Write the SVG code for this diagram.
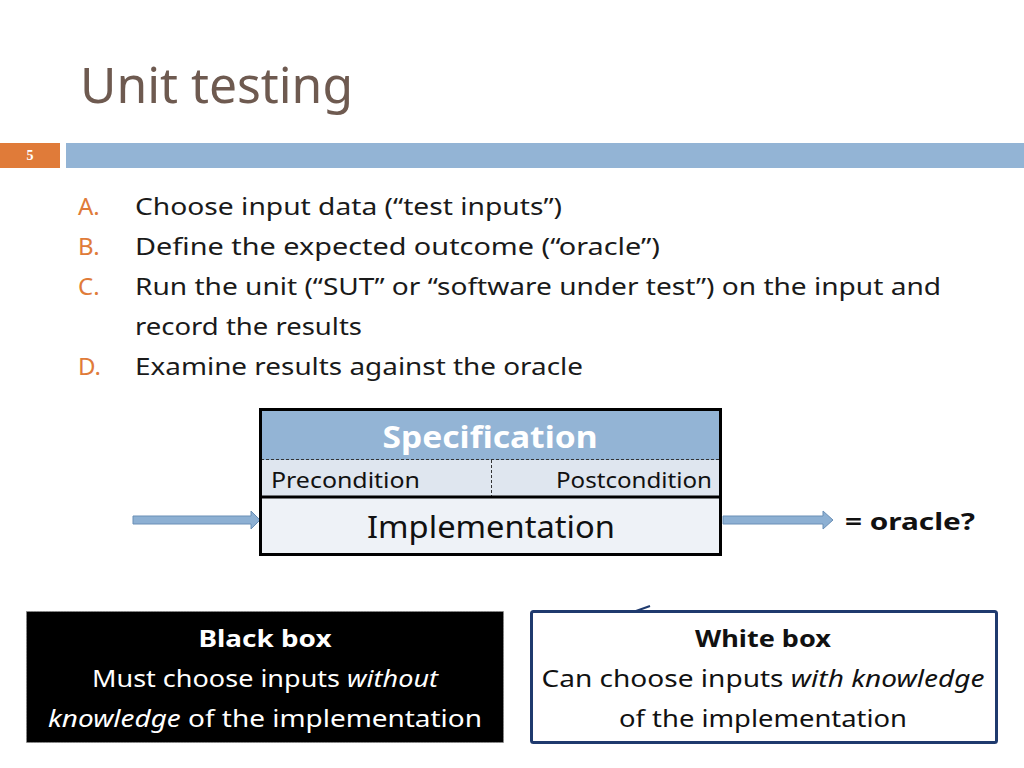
<svg xmlns="http://www.w3.org/2000/svg" width="1024" height="768" viewBox="0 0 1024 768">
<defs>
<style>
text{font-family:"Noto Sans","Open Sans","DejaVu Sans",sans-serif;}
.title{font-size:50px;fill:#6e5a50;}
.lbl{font-size:24px;fill:#e07b39;}
.item{font-size:24px;fill:#1a1a1a;}
.cell{font-size:22px;fill:#111;}
.big{font-size:30px;fill:#111;}
.box{font-size:24px;}
.arrow{fill:#8db0d3;stroke:#6a8fb6;stroke-width:1;}
</style>
</defs>
<rect width="1024" height="768" fill="#ffffff"/>
<g id="header">
<text class="title" x="80" y="103" textLength="273" lengthAdjust="spacingAndGlyphs">Unit testing</text>
<rect x="0" y="143" width="60" height="25" fill="#e07b39"/>
<text x="30" y="160" text-anchor="middle" style="font-family:'Liberation Serif',serif;font-size:14px;font-weight:bold;fill:#fff">5</text>
<rect x="66" y="143" width="958" height="25" fill="#93b4d5"/>
</g>
<g id="list">
<text class="lbl" x="78" y="215">A.</text>
<text class="item" x="135" y="215" textLength="427" lengthAdjust="spacingAndGlyphs">Choose input data (“test inputs”)</text>
<text class="lbl" x="78" y="255">B.</text>
<text class="item" x="135" y="255" textLength="525" lengthAdjust="spacingAndGlyphs">Define the expected outcome (“oracle”)</text>
<text class="lbl" x="78" y="295">C.</text>
<text class="item" x="135" y="295" textLength="806" lengthAdjust="spacingAndGlyphs">Run the unit (“SUT” or “software under test”) on the input and</text>
<text class="item" x="135" y="335" textLength="227" lengthAdjust="spacingAndGlyphs">record the results</text>
<text class="lbl" x="78" y="375">D.</text>
<text class="item" x="135" y="375" textLength="448" lengthAdjust="spacingAndGlyphs">Examine results against the oracle</text>
</g>
<g id="connectors">
<path class="arrow" d="M133,516 H251 V511 L260,520 L251,529 V524 H133 Z"/>
<path class="arrow" d="M723,516 H823 V511 L833,520 L823,529 V524 H723 Z"/>
</g>
<g id="spec-table">
<rect x="261" y="410" width="459" height="50" fill="#93b4d5"/>
<rect x="261" y="460" width="459" height="36" fill="#dfe6ef"/>
<rect x="261" y="496" width="459" height="58" fill="#eef2f7"/>
<line x1="261" y1="459.5" x2="720" y2="459.5" stroke="#333" stroke-width="1" stroke-dasharray="3,2"/>
<line x1="491.5" y1="460" x2="491.5" y2="496" stroke="#333" stroke-width="1" stroke-dasharray="3,2"/>
<line x1="260" y1="497" x2="721" y2="497" stroke="#000" stroke-width="3"/>
<rect x="260.5" y="409.5" width="460" height="145" fill="none" stroke="#000" stroke-width="3"/>
<text x="490" y="448" text-anchor="middle" style="font-size:30px;font-weight:bold;fill:#fff" textLength="215" lengthAdjust="spacingAndGlyphs">Specification</text>
<text class="cell" x="271" y="488" textLength="149" lengthAdjust="spacingAndGlyphs">Precondition</text>
<text class="cell" x="712" y="488" text-anchor="end" textLength="156" lengthAdjust="spacingAndGlyphs">Postcondition</text>
<text class="big" x="491" y="538" text-anchor="middle" textLength="248" lengthAdjust="spacingAndGlyphs">Implementation</text>
</g>
<g id="oracle">
<text x="845" y="530" style="font-size:24px;font-weight:bold;fill:#111" textLength="130" lengthAdjust="spacingAndGlyphs">= oracle?</text>
</g>
<g id="black-box">
<rect x="26.5" y="611.5" width="477" height="131" fill="#000" stroke="#8a8a8a" stroke-width="1" stroke-dasharray="2,1"/>
<text class="box" x="265" y="647" text-anchor="middle" style="font-weight:bold;fill:#fff" textLength="133" lengthAdjust="spacingAndGlyphs">Black box</text>
<text class="box" x="265" y="687" text-anchor="middle" style="fill:#fff" textLength="346" lengthAdjust="spacingAndGlyphs">Must choose inputs <tspan font-style="italic">without</tspan></text>
<text class="box" x="265" y="727" text-anchor="middle" style="fill:#fff" textLength="434" lengthAdjust="spacingAndGlyphs"><tspan font-style="italic">knowledge</tspan> of the implementation</text>
</g>
<g id="white-box">
<rect x="531.5" y="611.5" width="465" height="131" rx="2" fill="#fff" stroke="#1f3a6e" stroke-width="3"/>
<path d="M636,611 L650,606" stroke="#1f3a6e" stroke-width="2"/>
<text class="box" x="763" y="647" text-anchor="middle" style="font-weight:bold;fill:#111" textLength="136" lengthAdjust="spacingAndGlyphs">White box</text>
<text class="box" x="763" y="687" text-anchor="middle" style="fill:#111" textLength="443" lengthAdjust="spacingAndGlyphs">Can choose inputs <tspan font-style="italic">with knowledge</tspan></text>
<text class="box" x="763" y="727" text-anchor="middle" style="fill:#111" textLength="288" lengthAdjust="spacingAndGlyphs">of the implementation</text>
</g>
</svg>
